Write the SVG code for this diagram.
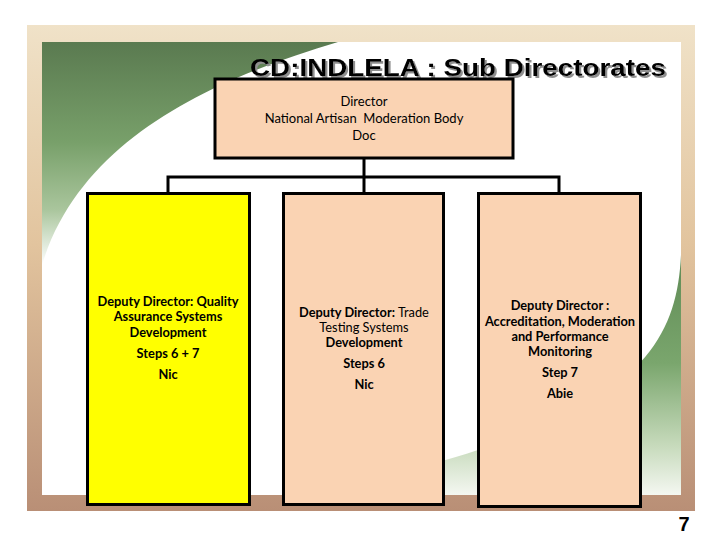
<svg xmlns="http://www.w3.org/2000/svg" width="720" height="540" viewBox="0 0 720 540">
  <defs>
    <linearGradient id="frameGrad" x1="0" y1="0" x2="0" y2="1">
      <stop offset="0" stop-color="#f0e2c8"/>
      <stop offset="0.45" stop-color="#e2c49e"/>
      <stop offset="1" stop-color="#b98f76"/>
    </linearGradient>
    <linearGradient id="greenTL" x1="0" y1="42" x2="0" y2="265" gradientUnits="userSpaceOnUse">
      <stop offset="0" stop-color="#5a7a50"/>
      <stop offset="0.45" stop-color="#78a06a"/>
      <stop offset="0.75" stop-color="#a9c59c"/>
      <stop offset="1" stop-color="#ffffff"/>
    </linearGradient>
    <linearGradient id="greenBR" x1="0" y1="255" x2="0" y2="495" gradientUnits="userSpaceOnUse">
      <stop offset="0" stop-color="#5f8a55"/>
      <stop offset="0.45" stop-color="#7aa66d"/>
      <stop offset="0.8" stop-color="#c8dbbd"/>
      <stop offset="1" stop-color="#f4f7f1"/>
    </linearGradient>
    <filter id="shadow" x="-5%" y="-20%" width="110%" height="150%">
      <feDropShadow dx="2" dy="2" stdDeviation="0.3" flood-color="#8f8f8f" flood-opacity="1"/>
    </filter>
    <style>
      .box { stroke: #000; stroke-width: 3; }
      .peach { fill: #fad3b3; }
      .yellow { fill: #ffff00; }
      .conn { fill: none; stroke: #000; stroke-width: 3; }
      .t { font-family: Lato, "Liberation Sans", sans-serif; font-size: 12.8px; fill: #000; text-anchor: middle; font-weight: bold; }
      .tr { font-family: Lato, "Liberation Sans", sans-serif; font-size: 13px; fill: #000; text-anchor: middle; }
      .n { font-weight: normal; }
      .title { font-family: "Liberation Sans", Arial, sans-serif; font-size: 24px; font-weight: bold; }
    </style>
  </defs>

  <!-- background frame -->
  <rect x="0" y="0" width="720" height="540" fill="#ffffff"/>
  <rect x="27" y="25" width="668" height="486" fill="url(#frameGrad)"/>
  <rect x="42" y="42" width="639" height="453" fill="#ffffff"/>
  <path d="M42,42 L338,42 C210,80 80,140 42,265 Z" fill="url(#greenTL)"/>
  <path d="M681,255 C676,360 620,430 300,495 L681,495 Z" fill="url(#greenBR)"/>

  <!-- title -->
  <text class="title" x="250" y="76" fill="#000000" filter="url(#shadow)" textLength="416" lengthAdjust="spacingAndGlyphs">CD:INDLELA : Sub Directorates</text>

  <!-- connectors -->
  <g id="connectors">
    <path class="conn" d="M364,158 V177"/>
    <path class="conn" d="M168,193 V177 H559 V193"/>
    <path class="conn" d="M364,177 V193"/>
  </g>

  <g id="director">
    <rect class="box peach" x="215" y="79" width="298" height="79"/>
    <text class="tr" x="364" y="106">Director</text>
    <text class="tr" x="364" y="123" xml:space="preserve">National Artisan  Moderation Body</text>
    <text class="tr" x="364" y="140">Doc</text>
  </g>

  <g id="dd-quality">
    <rect class="box yellow" x="87.5" y="193.5" width="162" height="311"/>
    <text class="t" x="168" y="306">Deputy Director: Quality</text>
    <text class="t" x="168" y="321">Assurance Systems</text>
    <text class="t" x="168" y="337">Development</text>
    <text class="t" x="168" y="358">Steps 6 + 7</text>
    <text class="t" x="168" y="379">Nic</text>
  </g>

  <g id="dd-trade">
    <rect class="box peach" x="283.5" y="193.5" width="160" height="311"/>
    <text class="t" x="364" y="317">Deputy Director:<tspan class="n"> Trade</tspan></text>
    <text class="t n" x="364" y="332">Testing Systems</text>
    <text class="t" x="364" y="347">Development</text>
    <text class="t" x="364" y="368">Steps 6</text>
    <text class="t" x="364" y="389">Nic</text>
  </g>

  <g id="dd-accreditation">
    <rect class="box peach" x="478.5" y="193.5" width="162" height="313"/>
    <text class="t" x="560" y="310">Deputy Director :</text>
    <text class="t" x="560" y="326">Accreditation, Moderation</text>
    <text class="t" x="560" y="341">and Performance</text>
    <text class="t" x="560" y="356">Monitoring</text>
    <text class="t" x="560" y="377">Step 7</text>
    <text class="t" x="560" y="398">Abie</text>
  </g>

  <text x="684" y="531" font-family="Liberation Sans, Arial, sans-serif" font-size="20" font-weight="bold" text-anchor="middle">7</text>
</svg>
